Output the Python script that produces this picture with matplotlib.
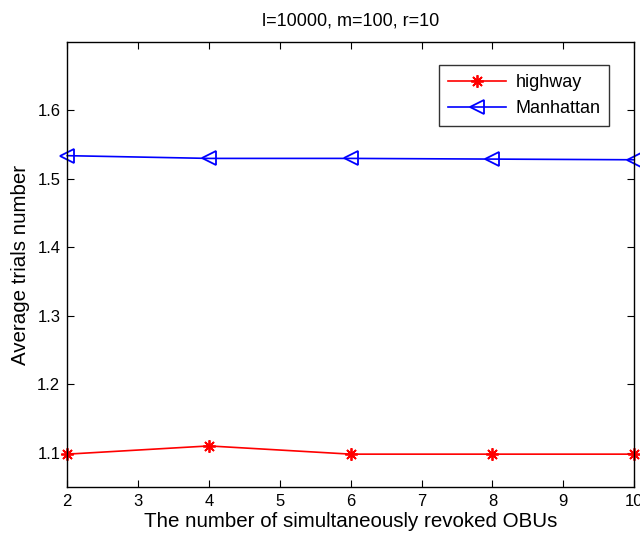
import matplotlib.pyplot as plt

plt.rcParams['font.family'] = ['Liberation Sans', 'DejaVu Sans']

revoked = [2, 4, 6, 8, 10]
highway = [1.098, 1.11, 1.098, 1.098, 1.098]
manhattan = [1.534, 1.530, 1.530, 1.529, 1.528]
x_ticks = [2, 3, 4, 5, 6, 7, 8, 9, 10]
y_ticks = [1.1, 1.2, 1.3, 1.4, 1.5, 1.6]


def main():
    fig = plt.figure(figsize=(6.4, 5.36), dpi=100)
    ax = fig.add_axes([0.105, 0.0914, 0.886, 0.8302])

    ax.plot(revoked, highway, color='red', marker=(8, 2, 0), markersize=9,
            markeredgewidth=1.3, linewidth=1.2, label='highway', clip_on=False)
    ax.plot(revoked, manhattan, color='blue', marker='<', markersize=10,
            markerfacecolor='none', markeredgewidth=1.3, linewidth=1.2,
            label='Manhattan', clip_on=False)

    ax.set_xlim(2, 10)
    ax.set_ylim(1.05, 1.7)
    ax.set_xticks(x_ticks)
    ax.set_yticks(y_ticks)
    ax.tick_params(direction='in', top=True, right=True, labelsize=12,
                   length=5, width=0.8, pad=5)
    for s in ax.spines.values():
        s.set_linewidth(1.0)

    ax.set_title('l=10000, m=100, r=10', fontsize=13, pad=12)
    ax.set_xlabel('The number of simultaneously revoked OBUs', fontsize=14.8,
                  labelpad=2)
    ax.set_ylabel('Average trials number', fontsize=14.8, labelpad=5)

    leg = ax.legend(loc='upper right', bbox_to_anchor=(0.956, 0.948),
                    borderaxespad=0, fancybox=False, edgecolor='black',
                    fontsize=13, handlelength=3.2, handletextpad=0.5,
                    borderpad=0.5, labelspacing=0.5)
    leg.get_frame().set_linewidth(1.0)

    fig.savefig('out.png', dpi=100)


if __name__ == '__main__':
    main()
